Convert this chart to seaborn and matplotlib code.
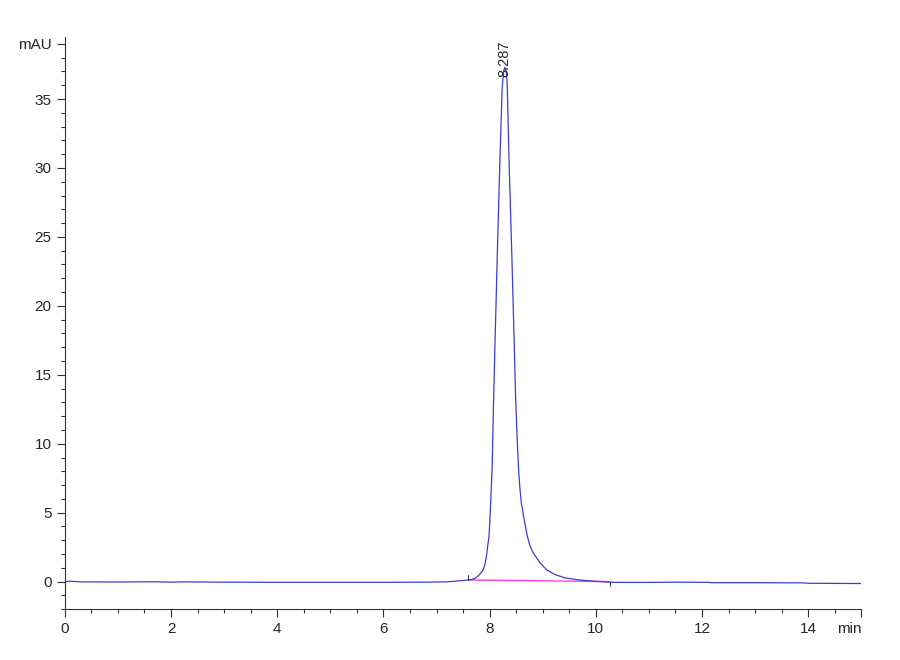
import numpy as np
import pandas as pd
import matplotlib
matplotlib.use("Agg")
import matplotlib.pyplot as plt
import seaborn as sns
from matplotlib.ticker import MultipleLocator

tiempo = [0.0, 0.1, 0.3, 1.0, 1.7, 2.0, 2.2, 3.0, 4.0, 5.0, 6.0, 6.8, 7.2,
          7.40, 7.50, 7.60, 7.66, 7.72, 7.78, 7.83, 7.88, 7.91, 7.94, 7.965,
          7.99, 8.02, 8.047, 8.075, 8.11, 8.147, 8.19, 8.236, 8.265, 8.287,
          8.31, 8.33, 8.37, 8.42, 8.46, 8.49, 8.525, 8.545, 8.567, 8.597,
          8.65, 8.71, 8.76, 8.82, 8.95, 9.07, 9.23, 9.42, 9.63, 9.85, 10.0,
          10.3, 10.6, 11.0, 11.5, 12.1, 12.2, 13.0, 13.9, 14.0, 15.0]
senal = [0.0, 0.03, -0.02, -0.03, -0.01, -0.04, -0.02, -0.04, -0.05, -0.05,
         -0.05, -0.04, -0.02, 0.05, 0.08, 0.12, 0.15, 0.22, 0.39, 0.6, 0.87,
         1.2, 1.84, 2.6, 3.3, 5.7, 8.15, 13.2, 18.5, 24.0, 30.0, 35.8, 37.0,
         37.3, 37.0, 36.3, 30.0, 23.5, 17.8, 13.3, 9.8, 8.2, 6.94, 5.73,
         4.51, 3.3, 2.6, 2.09, 1.36, 0.87, 0.51, 0.27, 0.15, 0.06, 0.02,
         -0.05, -0.06, -0.06, -0.04, -0.05, -0.08, -0.08, -0.09, -0.12, -0.14]

base_t = [7.59, 10.26]          # linea base de integracion
base_y = [0.12, 0.0]
pico_t = 8.287
pico_lbl = "8.287"

df = pd.DataFrame({"t": tiempo, "mAU": senal})
df_base = pd.DataFrame({"t": base_t, "mAU": base_y})

sns.set_style("ticks")
plt.rcParams["font.family"] = ["Liberation Sans Narrow", "Liberation Sans", "DejaVu Sans"]

fig = plt.figure(figsize=(9, 6.6), dpi=100)
ax = fig.add_axes([0.072, 0.077, 0.885, 0.867])

sns.lineplot(data=df_base, x="t", y="mAU", ax=ax, color="#ff3ce0", lw=1.0)
sns.lineplot(data=df, x="t", y="mAU", ax=ax, color="#3c3cd2", lw=0.9, sort=False)

# marcas de inicio / fin de integracion
ax.plot([base_t[0], base_t[0]], [0.1, 0.45], color="#333333", lw=0.7)
ax.plot([base_t[1], base_t[1]], [0.0, -0.3], color="#333333", lw=0.7)

ax.text(pico_t, 36.6, pico_lbl, rotation=90, ha="center", va="bottom", fontsize=10.5)

ax.set_xlim(0, 15)
ax.set_ylim(-2, 39.5)
ax.set_xticks([0, 2, 4, 6, 8, 10, 12, 14, 15])
ax.set_xticklabels(["0", "2", "4", "6", "8", "10", "12", "14", "min"])
ax.set_yticks([0, 5, 10, 15, 20, 25, 30, 35, 39])
ax.set_yticklabels(["0", "5", "10", "15", "20", "25", "30", "35", "mAU"])
ax.xaxis.set_minor_locator(MultipleLocator(0.5))
ax.yaxis.set_minor_locator(MultipleLocator(1))
ax.tick_params(which="major", length=6, width=0.8, labelsize=11, color="#333333")
ax.tick_params(which="minor", length=3, width=0.8, color="#333333")
for lbl in ax.get_xticklabels():
    if lbl.get_text() == "min":
        lbl.set_horizontalalignment("right")
ax.set_xlabel("")
ax.set_ylabel("")
sns.despine(ax=ax)
for s in ["left", "bottom"]:
    ax.spines[s].set_color("#333333")
    ax.spines[s].set_linewidth(0.8)

fig.savefig("out.png", dpi=100)
